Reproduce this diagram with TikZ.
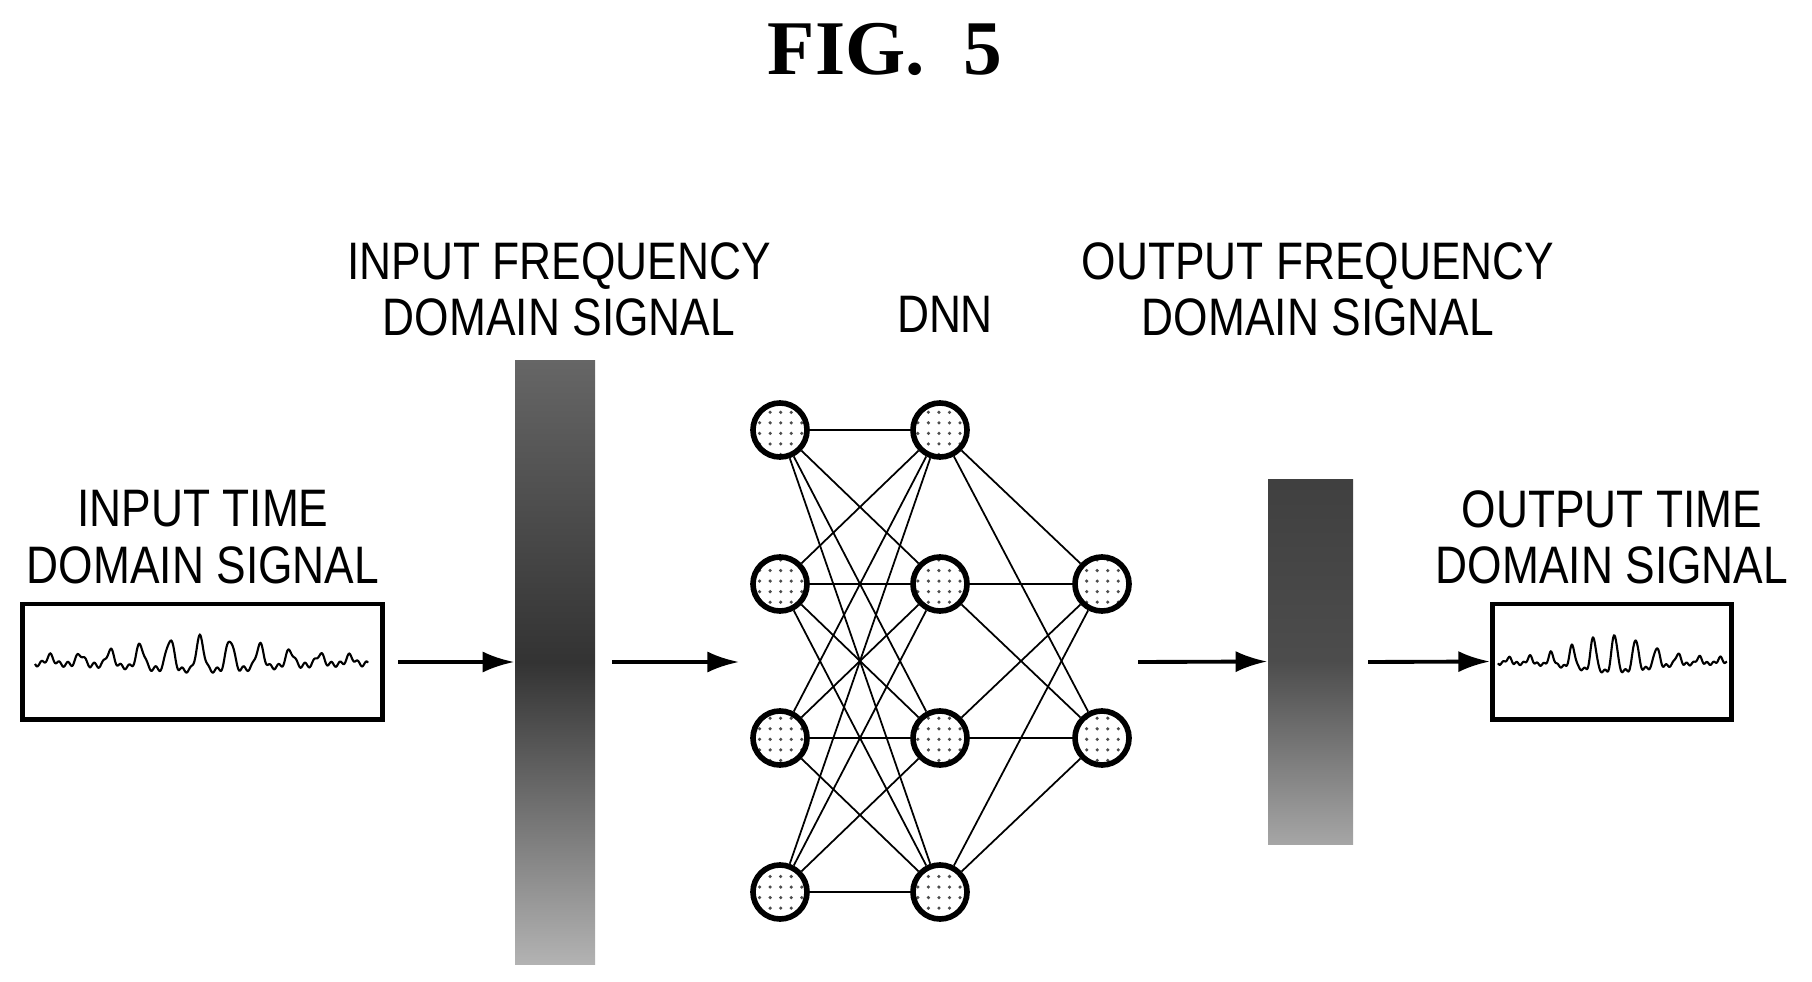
\documentclass[tikz,border=0pt]{standalone}
\usepackage{fontspec}
\setmainfont{Liberation Serif}
\newfontfamily\lblfont[FakeStretch=0.84]{Liberation Sans}
\usetikzlibrary{arrows.meta, positioning, patterns}

\begin{document}
\begin{tikzpicture}[
		x=0.01cm, y=-0.01cm,
		lbl/.style={align=center, font=\lblfont\fontsize{15}{16}\selectfont, inner sep=0pt},
		neuron/.style={circle, draw, line width=1.6pt, minimum size=0.54cm, inner sep=0pt, pattern=dots, pattern color=black!70},
		sigbox/.style={draw, line width=1.4pt, inner sep=0pt},
		arrow/.style={-{Latex[length=9pt,width=6pt]}, line width=1.1pt},
		link/.style={line width=0.5pt}
	]
		\useasboundingbox (0,0) rectangle (1812,982);

		% Title
		\node[font=\bfseries\fontsize{22}{24}\selectfont] (title) at (885,49) {FIG.\ \ 5};

		% Input time domain signal
		\node[sigbox, minimum width=3.59cm, minimum height=1.15cm] (tin) at (202.5,661.5) {};
		\node[lbl] (tinlbl) at (203,537) {INPUT TIME\\DOMAIN SIGNAL};
		\draw[line width=0.6pt] plot[domain=35:368, samples=500]
			(\x, {662 - (26*exp(-((\x-200)/85)^2)+7)*(pow(abs(sin(6.0*(\x-35))),6)-0.25) + 2.5*sin(41*(\x-35))});

		% Input frequency domain signal
		\node[lbl] (finlbl) at (559,289) {INPUT FREQUENCY\\DOMAIN SIGNAL};
		\shade[top color=black!60, bottom color=black!30, middle color=black!80]
			(515,360) rectangle (595,964);
		\node[minimum width=0.8cm, minimum height=6.04cm, inner sep=0pt] (fin) at (555,662) {};

		% DNN
		\node[lbl] (dnnlbl) at (945,314) {DNN};
		\foreach \i/\yy in {1/430, 2/584, 3/738, 4/892} {
			\node[neuron] (a\i) at (780,\yy) {};
			\node[neuron] (b\i) at (940,\yy) {};
		}
		\node[neuron] (c1) at (1102,584) {};
		\node[neuron] (c2) at (1102,738) {};
		\foreach \i in {1,...,4} {
			\foreach \j in {1,...,4}
				\draw[link] (a\i) -- (b\j);
			\foreach \j in {1,2}
				\draw[link] (b\i) -- (c\j);
		}

		% Output frequency domain signal
		\node[lbl] (foutlbl) at (1318,289) {OUTPUT FREQUENCY\\DOMAIN SIGNAL};
		\shade[top color=black!75, bottom color=black!35, middle color=black!70]
			(1268,479) rectangle (1353,844);
		\node[minimum width=0.85cm, minimum height=3.65cm, inner sep=0pt] (fout) at (1310.5,661.5) {};

		% Output time domain signal
		\node[sigbox, minimum width=2.39cm, minimum height=1.15cm] (tout) at (1612,661.5) {};
		\node[lbl] (toutlbl) at (1612,537) {OUTPUT TIME\\DOMAIN SIGNAL};
		\draw[line width=0.6pt] plot[domain=1498:1727, samples=500]
			(\x, {662 - (32*exp(-((\x-1612)/50)^2)+5)*(pow(abs(sin(8.5*(\x-1498))),6)-0.25) + 1.5*sin(53*(\x-1498))});

		% Arrows
		\coordinate (p1) at (398,662);
		\draw[arrow] (p1) -- (fin.west);
		\coordinate (p2) at (612,662);
		\coordinate (q2) at (739,662);
		\draw[arrow] (p2) -- (q2);
		\coordinate (p3) at (1138,662);
		\draw[arrow] (p3) -- (fout.west);
		\coordinate (p4) at (1368,662);
		\draw[arrow] (p4) -- (tout.west);
	\end{tikzpicture}
\end{document}
